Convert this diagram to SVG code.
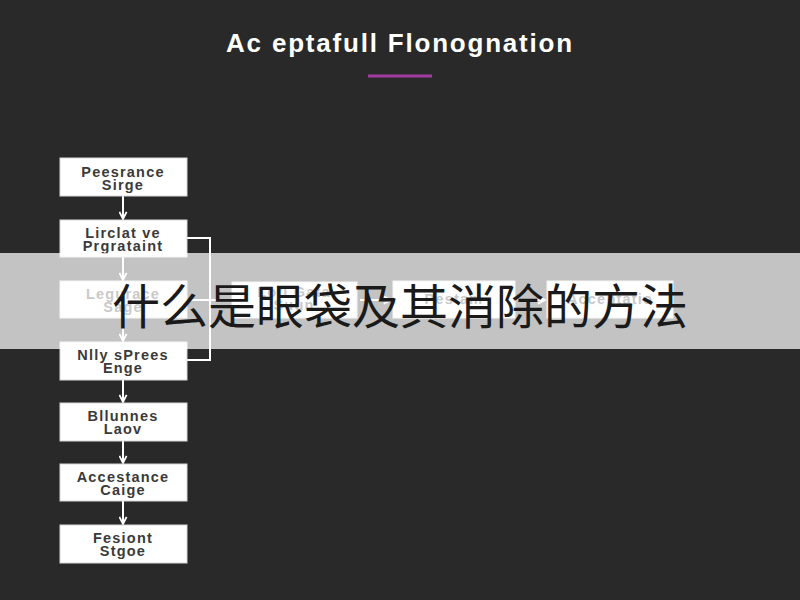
<svg xmlns="http://www.w3.org/2000/svg" width="800" height="600" viewBox="0 0 800 600">
<defs>
<style>
.box{fill:#ffffff;stroke:#d8d8d8;stroke-width:1}
.bt{font-family:"Liberation Sans",Arial,sans-serif;font-size:14.5px;font-weight:bold;fill:#3a3a3a;text-anchor:middle;letter-spacing:1.2px}
.ln{stroke:#ffffff;stroke-width:2;fill:none}
.ar{stroke:#ffffff;stroke-width:2;fill:none;marker-end:url(#ah)}
</style>
<marker id="ah" viewBox="0 0 10 10" refX="9" refY="5" markerWidth="9" markerHeight="9" markerUnits="userSpaceOnUse" orient="auto">
<path d="M1,1 L9,5 L1,9" fill="none" stroke="#ffffff" stroke-width="2"/>
</marker>
</defs>
<rect x="0" y="0" width="800" height="600" fill="#292929"/>
<g id="title">
<text x="400" y="52" font-family="Liberation Sans,Arial,sans-serif" font-size="26" font-weight="bold" fill="#ffffff" text-anchor="middle" letter-spacing="1.8">Ac eptafull Flonognation</text>
<rect x="368" y="74.5" width="64" height="3" fill="#a03ca0"/>
</g>
<g id="connectors">
<line class="ar" x1="123" y1="196" x2="123" y2="219"/>
<line class="ar" x1="123" y1="257" x2="123" y2="280"/>
<line class="ar" x1="123" y1="318" x2="123" y2="341"/>
<line class="ar" x1="123" y1="380" x2="123" y2="402"/>
<line class="ar" x1="123" y1="441" x2="123" y2="463"/>
<line class="ar" x1="123" y1="501" x2="123" y2="524"/>
<polyline class="ln" points="187,238 210,238 210,360 187,360"/>
<line class="ln" x1="187" y1="300" x2="232" y2="300"/>
<line class="ar" x1="360" y1="300" x2="391" y2="300"/>
<line class="ar" x1="518" y1="300" x2="545" y2="300"/>
</g>
<g id="n1"><rect class="box" x="60" y="158" width="127" height="38"/><text class="bt" x="123" y="177">Peesrance</text><text class="bt" x="123" y="190">Sirge</text></g>
<g id="n2"><rect class="box" x="60" y="220" width="127" height="37"/><text class="bt" x="123" y="238">Lirclat ve</text><text class="bt" x="123" y="251">Prgrataint</text></g>
<g id="n3"><rect class="box" x="60" y="281" width="127" height="37"/><text class="bt" x="123" y="299">Legurace</text><text class="bt" x="123" y="312">Sage</text></g>
<g id="n4"><rect class="box" x="60" y="342" width="127" height="38"/><text class="bt" x="123" y="360">Nlly sPrees</text><text class="bt" x="123" y="373">Enge</text></g>
<g id="n5"><rect class="box" x="60" y="403" width="127" height="38"/><text class="bt" x="123" y="421">Bllunnes</text><text class="bt" x="123" y="434">Laov</text></g>
<g id="n6"><rect class="box" x="60" y="464" width="127" height="37"/><text class="bt" x="123" y="482">Accestance</text><text class="bt" x="123" y="495">Caige</text></g>
<g id="n7"><rect class="box" x="60" y="525" width="127" height="38"/><text class="bt" x="123" y="543">Fesiont</text><text class="bt" x="123" y="556">Stgoe</text></g>
<g id="h1"><rect class="box" x="232" y="282" width="125" height="36"/><text class="bt" x="294" y="297">Lofi Gata</text><text class="bt" x="294" y="310">Suun</text></g>
<g id="h2"><rect class="box" x="393" y="281" width="122" height="37"/><text class="bt" x="454" y="304">Pestam</text></g>
<g id="h3"><rect class="box" x="547" y="281" width="126" height="37"/><text class="bt" x="610" y="304">Acceptatio</text></g>
<g id="banner">
<rect x="0" y="253" width="800" height="96" fill="#ffffff" fill-opacity="0.72"/>
<text x="400" y="324" font-family="Noto Sans CJK SC,sans-serif" font-size="48" fill="#1a1a1a" text-anchor="middle">什么是眼袋及其消除的方法</text>
</g>
</svg>
